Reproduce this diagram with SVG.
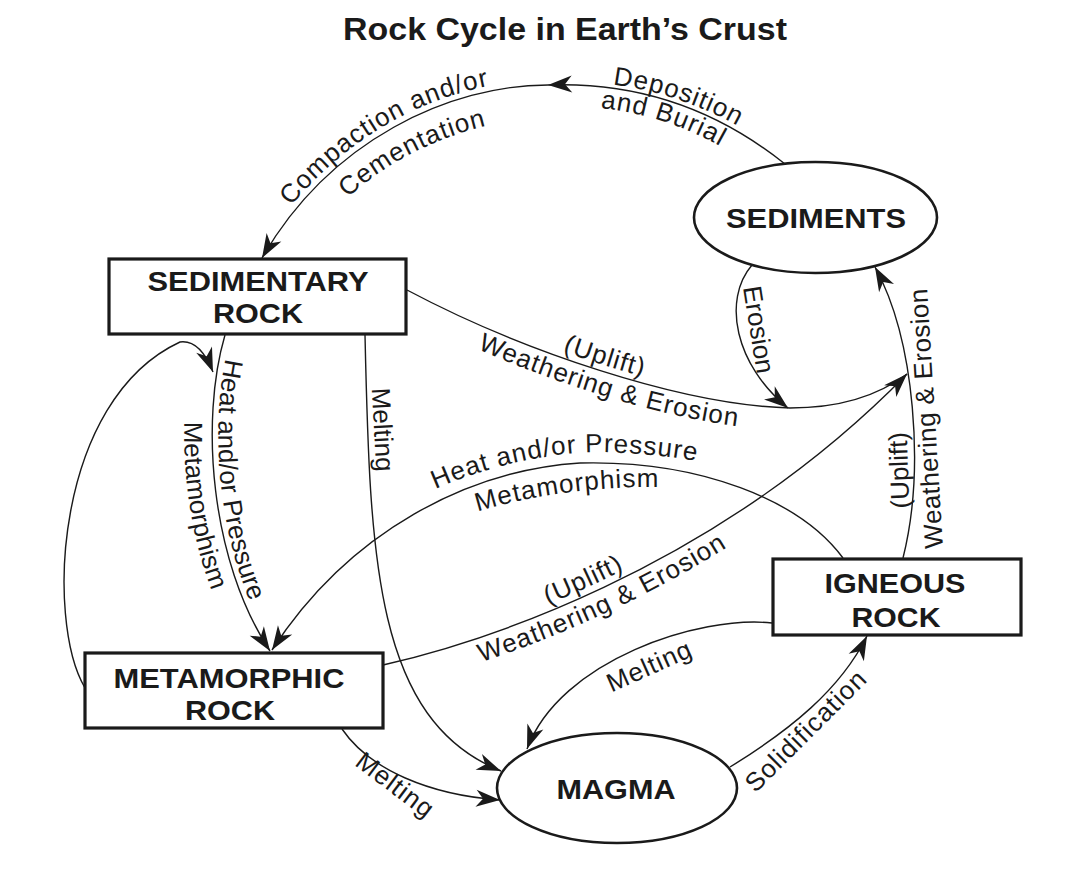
<svg xmlns="http://www.w3.org/2000/svg" width="1068" height="876" viewBox="0 0 1068 876">
<style>
.node{fill:#fff;stroke:#1a1a1a;stroke-width:3.2}
.oval{fill:#fff;stroke:#1a1a1a;stroke-width:2.6}
.nl{font-family:"Liberation Sans",Arial,sans-serif;font-weight:bold;font-size:28px;fill:#1a1a1a;text-anchor:middle}
.title{font-family:"Liberation Sans",Arial,sans-serif;font-weight:bold;font-size:31px;fill:#1a1a1a;text-anchor:middle}
.c{fill:none;stroke:#1a1a1a;stroke-width:1.4}
.a{marker-end:url(#arr)}
.lb{font-family:"Liberation Sans",Arial,sans-serif;font-size:26px;fill:#1a1a1a;text-anchor:middle}
.ls{letter-spacing:1px}
</style>
<defs>
<marker id="arr" viewBox="-25 -10 26 20" refX="0" refY="0" markerWidth="26" markerHeight="20" markerUnits="userSpaceOnUse" orient="auto"><path d="M0,0 L-24,-8.5 L-17,0 L-24,8.5 Z" fill="#1a1a1a"/></marker>
<path id="tpComp" d="M259,253 C327,135 447,80 546,80"/>
<path id="tpCem" d="M301,252 C351,177 431,132 521,119"/>
<path id="tpDep" d="M548,82 Q680,76 788,159"/>
<path id="tpBur" d="M548,107 Q670,100 770,180"/>
<path id="tpUp1" d="M409,284 C522,344 682,399 792,402"/>
<path id="tpWe1" d="M400,312 C513,372 673,427 783,430"/>
<path id="tpHeatM" d="M425,494 C470,472 540,452 600,452 C640,453 680,457 710,464"/>
<path id="tpMetaM" d="M440,525 C500,500 580,486 660,487"/>
<path id="tpUp2" d="M380,659 C467,639 707,569 905,366"/>
<path id="tpWe2" d="M393,687 C480,667 720,597 918,394"/>
<path id="tpHeatL" d="M231,337 C206,420 216,560 276,651"/>
<path id="tpMetaL" d="M197,337 C172,420 182,560 242,651"/>
</defs>
<rect x="0" y="0" width="1068" height="876" fill="#fff"/>
<text class="title" x="565" y="40" textLength="444" lengthAdjust="spacingAndGlyphs">Rock Cycle in Earth’s Crust</text>
<g id="connectors">
<path class="c a" d="M785,164 Q680,80 548,85"/>
<path class="c a" d="M548,85 C450,85 330,140 262,258"/>
<path class="c a" d="M752,265 C722,300 735,365 788,408"/>
<path class="c" d="M407,290 C520,350 680,405 790,408 Q862,408 907,374"/>
<path class="c a" d="M383,665 C470,645 710,575 907,374"/>
<path class="c a" d="M903,558 C925,470 915,340 875,267"/>
<path class="c a" d="M225,335 C200,420 210,560 270,651"/>
<path class="c a" d="M85,688 C45,620 55,400 180,342 C195,340 205,352 213,372"/>
<path class="c a" d="M365,335 C370,560 375,720 501,771"/>
<path class="c a" d="M342,729 C370,770 430,795 500,800"/>
<path class="c a" d="M772,623 C700,615 560,660 527,749"/>
<path class="c a" d="M730,767 C790,730 840,690 867,636"/>
<path class="c" d="M843,558 C800,500 700,460 580,463"/>
<path class="c a" d="M580,463 C470,470 350,530 272,650"/>
</g>
<g id="labels">
<text class="lb ls"><textPath href="#tpComp" startOffset="50%">Compaction and/or</textPath></text>
<text class="lb ls"><textPath href="#tpCem" startOffset="57%">Cementation</textPath></text>
<text class="lb ls"><textPath href="#tpDep" startOffset="51%">Deposition</textPath></text>
<text class="lb ls"><textPath href="#tpBur" startOffset="48.5%">and Burial</textPath></text>
<text class="lb ls"><textPath href="#tpUp1" startOffset="52%">(Uplift)</textPath></text>
<text class="lb ls"><textPath href="#tpWe1" startOffset="55%">Weathering &amp; Erosion</textPath></text>
<text class="lb ls"><textPath href="#tpHeatM" startOffset="145">Heat and/or Pressure</textPath></text>
<text class="lb ls"><textPath href="#tpMetaM" startOffset="132">Metamorphism</textPath></text>
<text class="lb ls"><textPath href="#tpUp2" startOffset="36%">(Uplift)</textPath></text>
<text class="lb ls"><textPath href="#tpWe2" startOffset="37.5%">Weathering &amp; Erosion</textPath></text>
<text class="lb"><textPath href="#tpHeatL" startOffset="146">Heat and/or Pressure</textPath></text>
<text class="lb"><textPath href="#tpMetaL" startOffset="172">Metamorphism</textPath></text>
<text class="lb" transform="translate(750,331) rotate(81)">Erosion</text>
<text class="lb" transform="translate(374,430) rotate(87)">Melting</text>
<text class="lb" transform="translate(908,470) rotate(-92)">(Uplift)</text>
<text class="lb" transform="translate(935,418) rotate(-93.5)" letter-spacing="0.4">Weathering &amp; Erosion</text>
<text class="lb ls" transform="translate(653,674) rotate(-24)">Melting</text>
<text class="lb ls" transform="translate(390,792) rotate(37)">Melting</text>
<text class="lb ls" transform="translate(812,737) rotate(-45)">Solidification</text>
</g>
<g id="sediments">
<ellipse class="oval" cx="815.5" cy="217.5" rx="121.5" ry="55.5"/>
<text class="nl" x="816" y="228" textLength="180" lengthAdjust="spacingAndGlyphs">SEDIMENTS</text>
</g>
<g id="sedimentary-rock">
<rect class="node" x="109" y="259" width="297" height="75"/>
<text class="nl" x="258" y="291" textLength="221" lengthAdjust="spacingAndGlyphs">SEDIMENTARY</text>
<text class="nl" x="258" y="323" textLength="90" lengthAdjust="spacingAndGlyphs">ROCK</text>
</g>
<g id="metamorphic-rock">
<rect class="node" x="85" y="653" width="298" height="75"/>
<text class="nl" x="229" y="688" textLength="231" lengthAdjust="spacingAndGlyphs">METAMORPHIC</text>
<text class="nl" x="230" y="720" textLength="90" lengthAdjust="spacingAndGlyphs">ROCK</text>
</g>
<g id="igneous-rock">
<rect class="node" x="773" y="559" width="248" height="76"/>
<text class="nl" x="895" y="593" textLength="141" lengthAdjust="spacingAndGlyphs">IGNEOUS</text>
<text class="nl" x="896" y="627" textLength="89" lengthAdjust="spacingAndGlyphs">ROCK</text>
</g>
<g id="magma">
<ellipse class="oval" cx="617" cy="788" rx="120" ry="55"/>
<text class="nl" x="616" y="799" textLength="119" lengthAdjust="spacingAndGlyphs">MAGMA</text>
</g>
</svg>
